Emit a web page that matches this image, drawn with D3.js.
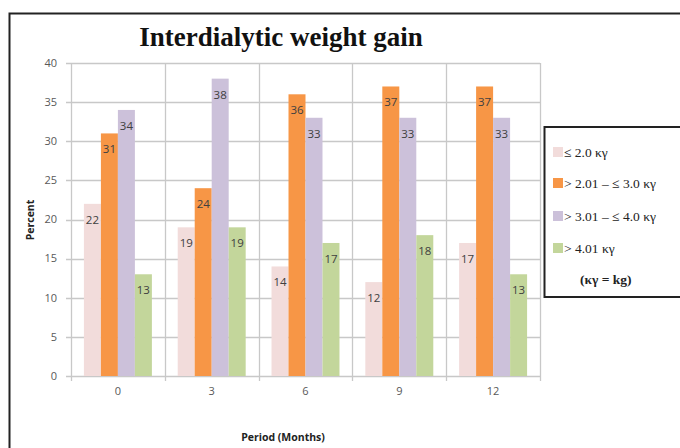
<!DOCTYPE html>
<html><head><meta charset="utf-8">
<script src="https://cdn.jsdelivr.net/npm/d3@7"></script>
<style>body{margin:0;background:#fff}svg{display:block}</style>
</head><body>
<svg id="c" width="680" height="448"></svg>
<script>
const categories = ["0","3","6","9","12"];
const seriesNames = ["≤ 2.0 κγ","> 2.01 – ≤ 3.0 κγ","> 3.01 – ≤ 4.0 κγ","> 4.01 κγ"];
const s1 = [22,19,14,12,17];
const s2 = [31,24,36,37,37];
const s3 = [34,38,33,33,33];
const s4 = [13,19,17,18,13];
const yTicks = [0,5,10,15,20,25,30,35,40];
const colors = ["#F2DCDB","#F79646","#CCC1DA","#C3D69B"];
const series = [s1,s2,s3,s4];

const svg = d3.select("#c");
// outer frame
svg.append("rect").attr("x",9.5).attr("y",13.5).attr("width",700).attr("height",460)
  .attr("fill","none").attr("stroke","#222").attr("stroke-width",2);

const L=71,R=540,T=63,B=376;
const x = d3.scaleBand().domain(categories).range([L,R]);
const xi = d3.scaleBand().domain(d3.range(4)).range([0,x.bandwidth()]).paddingOuter(0.76);
const y = d3.scaleLinear().domain([0,40]).range([B,T]);

// grid
svg.append("g").selectAll("line").data(yTicks).join("line")
  .attr("x1",L-5).attr("x2",R).attr("y1",d=>Math.round(y(d))+0.5).attr("y2",d=>Math.round(y(d))+0.5)
  .attr("stroke","#c8c8c8").attr("stroke-width",1.3);
const bounds = categories.map(c=>x(c)).concat([R]);
svg.append("g").selectAll("line").data(bounds).join("line")
  .attr("x1",d=>Math.round(d)+0.5).attr("x2",d=>Math.round(d)+0.5).attr("y1",T).attr("y2",B+5)
  .attr("stroke","#c8c8c8").attr("stroke-width",1.3);

// y tick labels
svg.append("g").selectAll("text").data(yTicks).join("text")
  .attr("x",57).attr("y",d=>y(d)).attr("dy","0.35em").attr("text-anchor","end")
  .attr("font-family","Open Sans, sans-serif").attr("font-size",11).attr("fill","#595959").text(d=>d);
// x tick labels
svg.append("g").selectAll("text").data(categories).join("text")
  .attr("x",d=>x(d)+x.bandwidth()/2).attr("y",395).attr("text-anchor","middle")
  .attr("font-family","Open Sans, sans-serif").attr("font-size",11).attr("fill","#595959").text(d=>d);

// bars
series.forEach((vals,si)=>{
  const g = svg.append("g");
  g.selectAll("rect").data(vals).join("rect")
    .attr("x",(d,i)=>x(categories[i])+xi(si)).attr("width",xi.bandwidth())
    .attr("y",d=>y(d)).attr("height",d=>B-y(d)).attr("fill",colors[si]);
  g.selectAll("text").data(vals).join("text")
    .attr("x",(d,i)=>x(categories[i])+xi(si)+xi.bandwidth()/2).attr("y",d=>y(d)+20)
    .attr("text-anchor","middle").attr("font-family","Open Sans, sans-serif").attr("font-size",11.5)
    .attr("fill","#404040").text(d=>d);
});

// title
svg.append("text").attr("x",281).attr("y",46).attr("text-anchor","middle")
  .attr("font-family","Liberation Serif, Times New Roman, serif").attr("font-weight","bold")
  .attr("font-size",27).attr("fill","#111").text("Interdialytic weight gain");
// axis titles
svg.append("text").attr("transform","translate(34,220) rotate(-90)").attr("text-anchor","middle")
  .attr("font-family","Open Sans, sans-serif").attr("font-weight","bold").attr("font-size",10.5)
  .attr("fill","#222").text("Percent");
svg.append("text").attr("x",283).attr("y",441).attr("text-anchor","middle")
  .attr("font-family","Open Sans, sans-serif").attr("font-weight","bold").attr("font-size",10.5)
  .attr("fill","#222").text("Period (Months)");

// legend
const lg = svg.append("g");
lg.append("rect").attr("x",544.5).attr("y",127).attr("width",150).attr("height",170)
  .attr("fill","#fff").attr("stroke","#222").attr("stroke-width",2);
const legendY = [152,183,216,248];
seriesNames.forEach((n,i)=>{
  const yy = legendY[i];
  lg.append("rect").attr("x",553).attr("y",yy-5).attr("width",10).attr("height",10).attr("fill",colors[i]);
  lg.append("text").attr("x",564).attr("y",yy).attr("dy","0.35em")
    .attr("font-family","Liberation Serif, Times New Roman, serif").attr("font-size",13.5)
    .attr("fill","#222").text(n);
});
lg.append("text").attr("x",580).attr("y",284)
  .attr("font-family","Liberation Serif, Times New Roman, serif").attr("font-weight","bold").attr("font-size",13.5)
  .attr("fill","#222").text("(κγ = kg)");
</script>
</body></html>
